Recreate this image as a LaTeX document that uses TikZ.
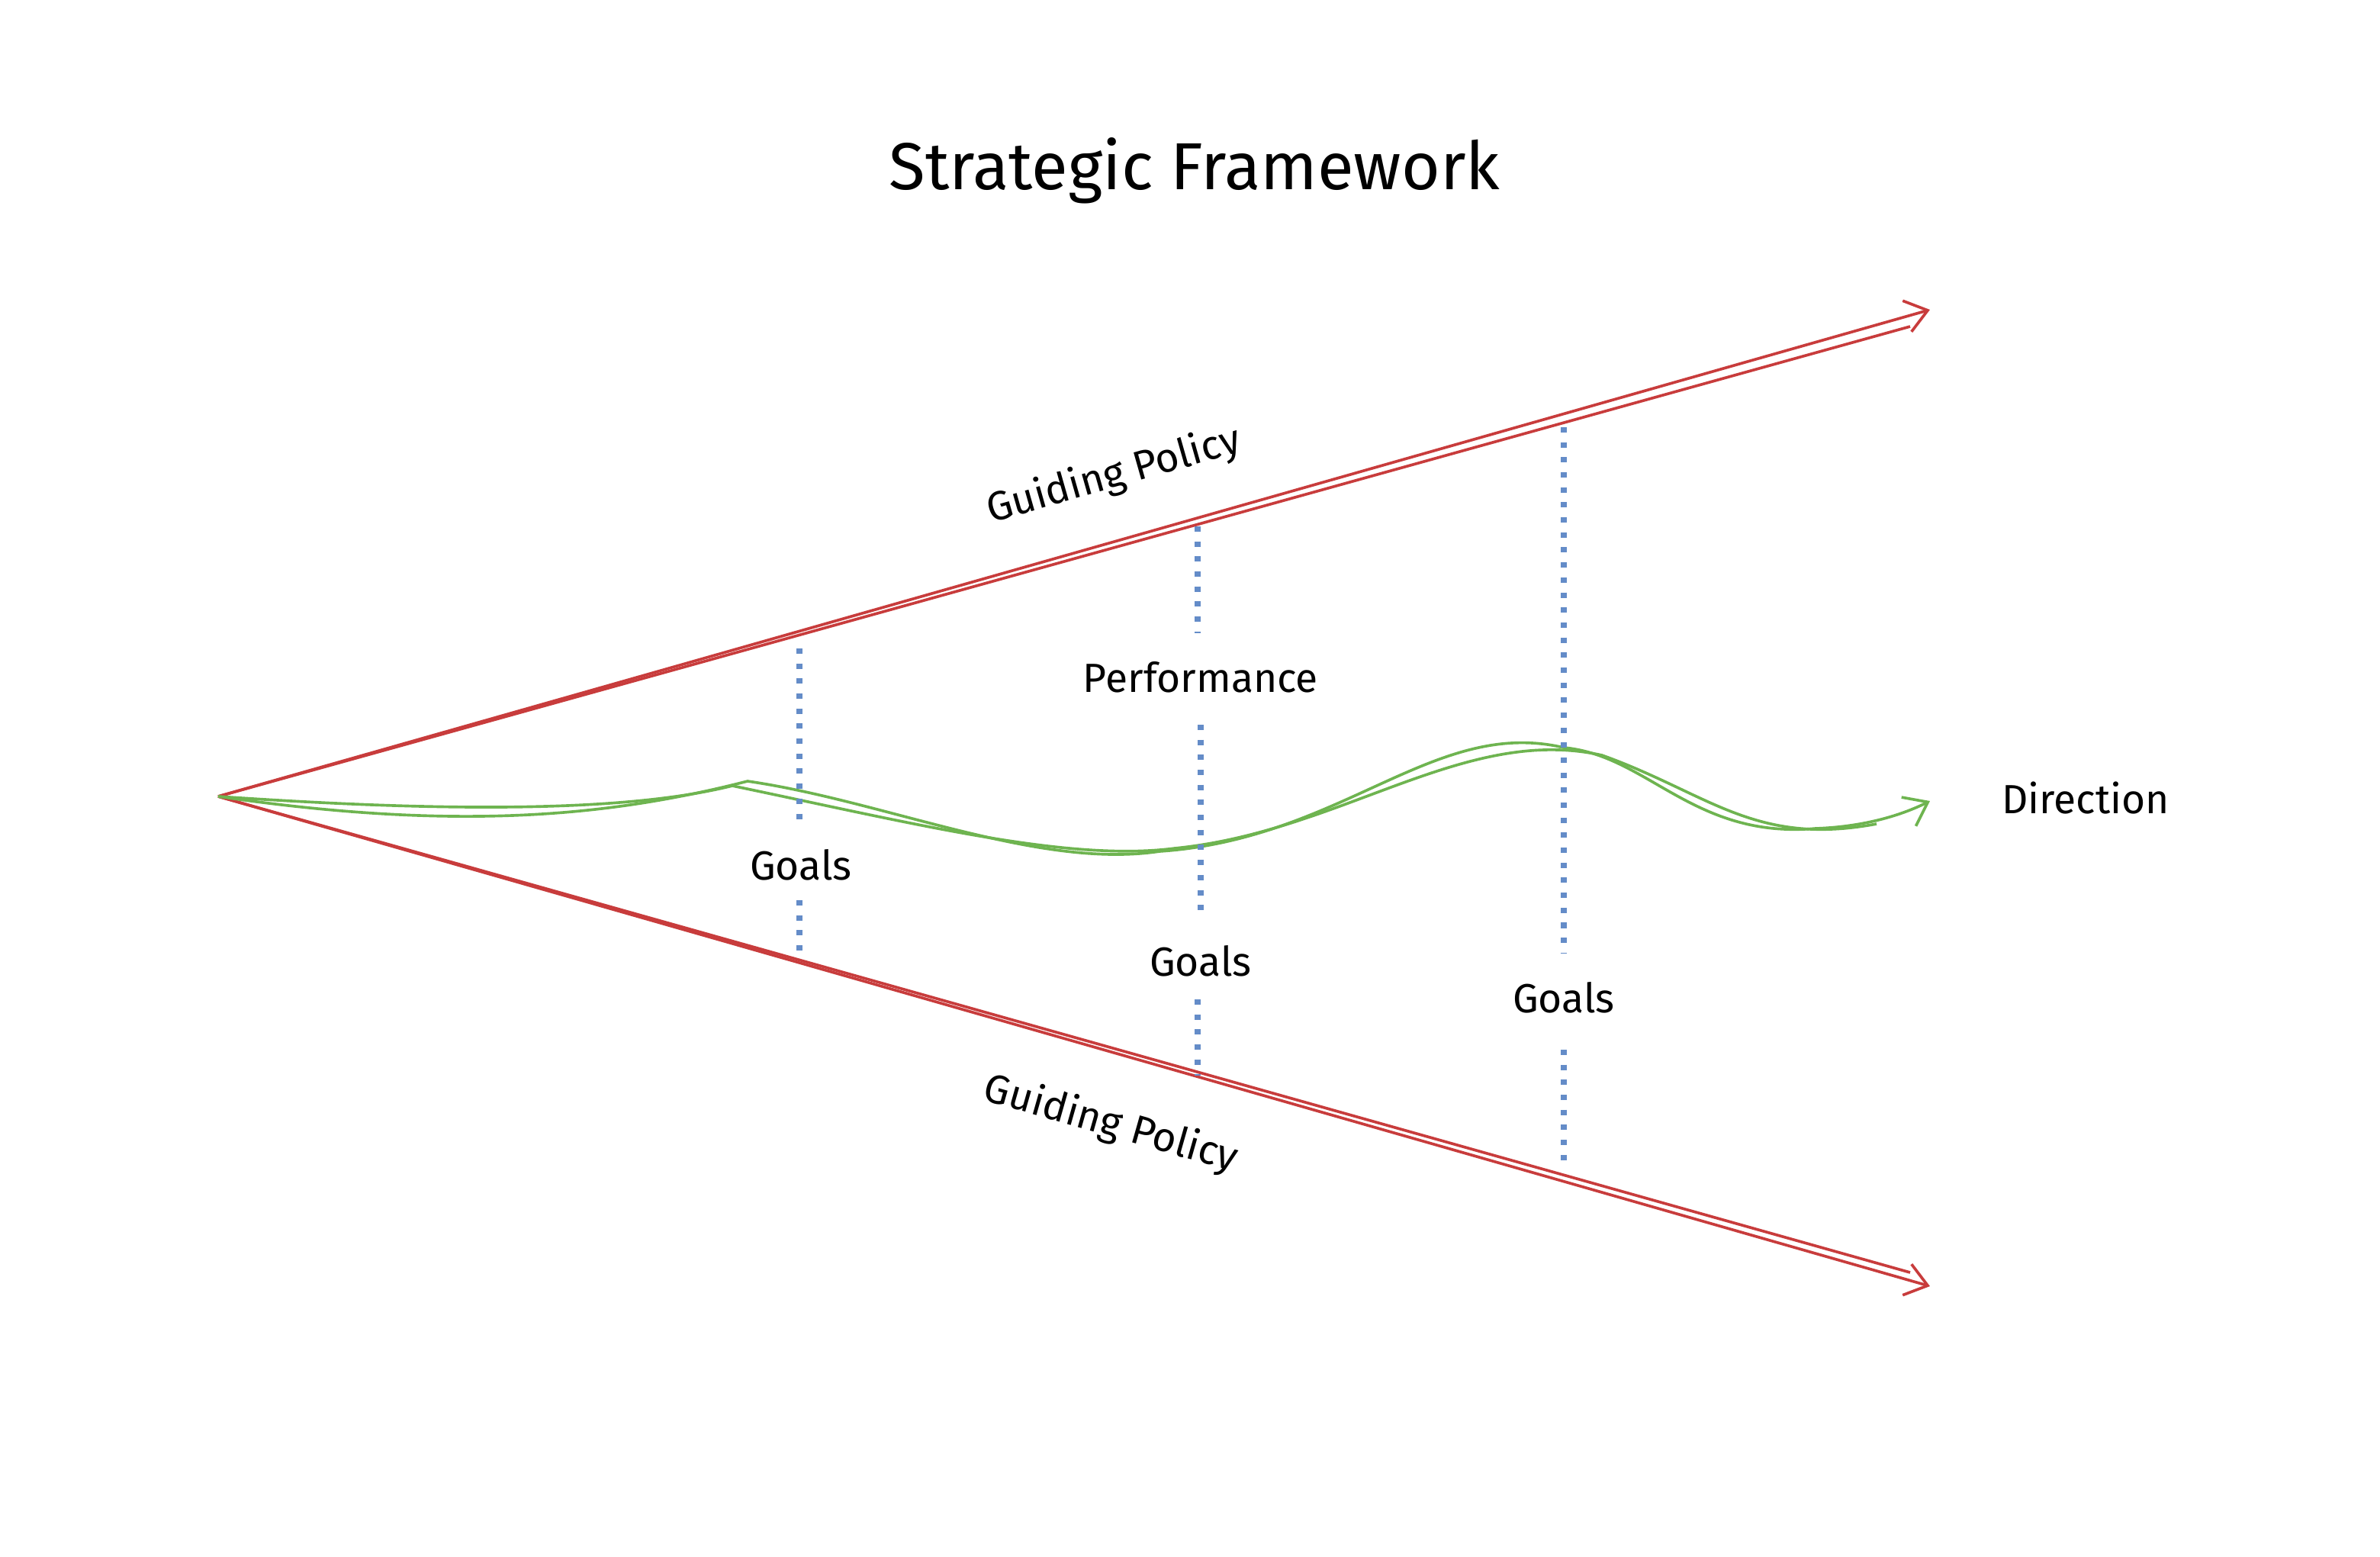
\documentclass[tikz,border=0pt]{standalone}
\usepackage{fontspec}
\setmainfont{Fira Sans}
\usetikzlibrary{arrows.meta}
\definecolor{policyred}{RGB}{200,60,60}
\definecolor{goalblue}{RGB}{100,140,200}
\definecolor{coursegreen}{RGB}{110,180,80}
\begin{document}
\begin{tikzpicture}[x=0.05cm, y=-0.05cm,
    policy/.style = {draw=policyred, line width=2.6pt},
    goal/.style   = {draw=goalblue, line width=5.5pt, dash pattern=on 5pt off 9pt},
    course/.style = {draw=coursegreen, line width=2.6pt},
    tip/.style    = {-{Straight Barb[open, length=20pt, width=30pt, line width=2.6pt]}},
    lbl/.style    = {font=\fontsize{38}{44}\selectfont}]
    \useasboundingbox (0,0) rectangle (1560,1020);
    % title
    \node[font=\fontsize{62}{72}\selectfont] (title) at (783,112) {Strategic Framework};
    % coordinates
    \coordinate (origin)  at (143,522);
    \coordinate (uptip)   at (1265,203);
    \coordinate (lowtip)  at (1265,843);
    \coordinate (dirtip)  at (1265,525);
    % guiding policy
    \draw[policy, tip] (origin) -- (uptip);
    \draw[policy] (origin) -- (1252,214);
    \draw[policy, tip] (origin) -- (lowtip);
    \draw[policy] (origin) -- (1252,834);
    \node[lbl, rotate=15.9] (polup) at (730,312) {Guiding Policy};
    \node[lbl, rotate=-15.9] (pollow) at (728,737) {Guiding Policy};
    % direction
    \draw[course, tip] (origin)
        .. controls (300,545) and (400,535) .. (490,512)
        .. controls (580,525) and (680,570) .. (760,558)
        .. controls (880,550) and (940,470) .. (1025,490)
        .. controls (1080,495) and (1110,550) .. (1190,543)
        .. controls (1220,542) and (1245,535) .. (dirtip);
    \draw[course] (origin) .. controls (260,530) and (400,535) .. (480,515)
        .. controls (600,540) and (700,565) .. (770,556)
        .. controls (880,545) and (960,475) .. (1050,495)
        .. controls (1120,520) and (1150,555) .. (1230,540);
    \node[lbl] (dir) at (1367,523) {Direction};
    % goals and performance
    \node[lbl] (goalA) at (525,567) {Goals};
    \node[lbl] (goalB) at (787,630) {Goals};
    \node[lbl] (goalC) at (1025,654) {Goals};
    \node[lbl] (perf)  at (787,444) {Performance};
    \coordinate (a1) at (524,425); \coordinate (a2) at (524,540);
    \coordinate (a3) at (524,590); \coordinate (a4) at (524,625);
    \coordinate (b1) at (785,345); \coordinate (b2) at (785,415);
    \coordinate (b3) at (787,475); \coordinate (b4) at (787,600);
    \coordinate (b5) at (785,655); \coordinate (b6) at (785,705);
    \coordinate (c1) at (1025,280); \coordinate (c2) at (1025,625);
    \coordinate (c3) at (1025,688); \coordinate (c4) at (1025,765);
    \draw[goal] (a1) -- (a2);
    \draw[goal] (a3) -- (a4);
    \draw[goal] (b1) -- (b2);
    \draw[goal] (b3) -- (b4);
    \draw[goal] (b5) -- (b6);
    \draw[goal] (c1) -- (c2);
    \draw[goal] (c3) -- (c4);
\end{tikzpicture}
\end{document}
